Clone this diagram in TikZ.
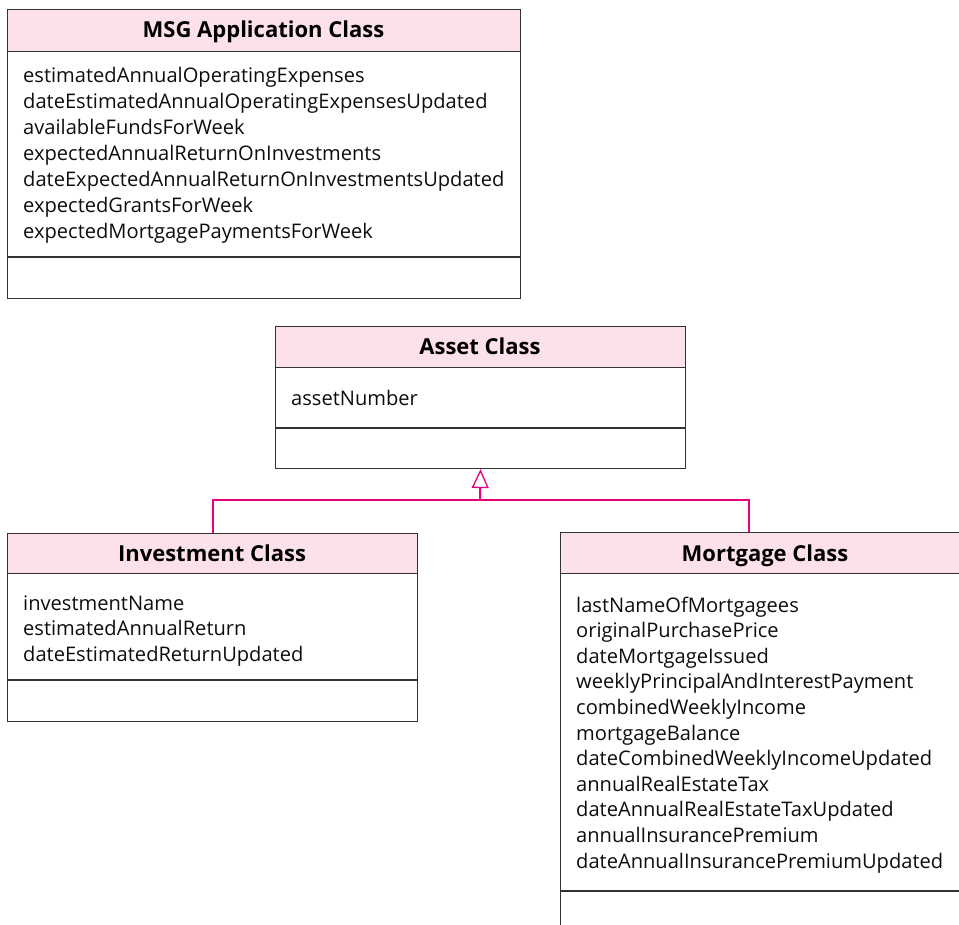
\documentclass[tikz,border=0pt]{standalone}
\usepackage{fontspec}
\setmainfont{Open Sans}
\usetikzlibrary{arrows.meta}
\definecolor{hdrpink}{RGB}{252,224,234}
\definecolor{linkmag}{RGB}{230,0,126}
\definecolor{edgegray}{RGB}{50,50,50}
\tikzset{
  classbox/.style={draw=edgegray, line width=1.1pt, inner sep=0pt, anchor=north west},
  hdrfill/.style={fill=hdrpink, draw=edgegray, line width=1.1pt, inner sep=0pt, anchor=north west},
  sepline/.style={draw=edgegray, line width=1.1pt},
  attr/.style={anchor=base west, inner sep=0pt, font=\fontsize{20.1}{24}\selectfont, text=black!95},
  hdr/.style={anchor=base, inner sep=0pt, font=\fontsize{22}{24}\selectfont\bfseries, text=black},
  genline/.style={draw=linkmag, line width=2pt},
}
\begin{document}
\begin{tikzpicture}[x=1pt,y=-1pt]
\useasboundingbox (0,0) rectangle (959,925);
\clip (0,0) rectangle (959,925);

% MSG Application Class
\node[classbox, minimum width=513pt, minimum height=289pt] (msg) at (7,9) {};
\node[hdrfill, minimum width=513pt, minimum height=41.6pt] (msgh) at (7,9) {};
\draw[sepline] (7,257) -- (520,257);
\node[hdr] (msgt) at (263.5,37.2) {MSG Application Class};
\foreach \t [count=\i from 0] in {estimatedAnnualOperatingExpenses,dateEstimatedAnnualOperatingExpensesUpdated,availableFundsForWeek,expectedAnnualReturnOnInvestments,dateExpectedAnnualReturnOnInvestmentsUpdated,expectedGrantsForWeek,expectedMortgagePaymentsForWeek}
  \node[attr] (msga\i) at (23,82.8+25.9*\i) {\t};

% Asset Class
\node[classbox, minimum width=410pt, minimum height=142pt] (asset) at (275,326) {};
\node[hdrfill, minimum width=410pt, minimum height=41pt] (asseth) at (275,326) {};
\draw[sepline] (275,428) -- (685,428);
\node[hdr] (assett) at (480,355) {Asset Class};
\node[attr] (asseta0) at (291,406) {assetNumber};

% Investment Class
\node[classbox, minimum width=410pt, minimum height=188pt] (inv) at (7,533) {};
\node[hdrfill, minimum width=410pt, minimum height=40pt] (invh) at (7,533) {};
\draw[sepline] (7,680) -- (417,680);
\node[hdr] (invt) at (212,561.5) {Investment Class};
\foreach \t [count=\i from 0] in {investmentName,estimatedAnnualReturn,dateEstimatedReturnUpdated}
  \node[attr] (inva\i) at (23,610+25.6*\i) {\t};

% Mortgage Class
\node[classbox, minimum width=420pt, minimum height=420pt] (mort) at (560,532) {};
\node[hdrfill, minimum width=420pt, minimum height=41pt] (morth) at (560,532) {};
\draw[sepline] (560,891) -- (980,891);
\node[hdr] (mortt) at (765,561.5) {Mortgage Class};
\foreach \t [count=\i from 0] in {lastNameOfMortgagees,originalPurchasePrice,dateMortgageIssued,weeklyPrincipalAndInterestPayment,combinedWeeklyIncome,mortgageBalance,dateCombinedWeeklyIncomeUpdated,annualRealEstateTax,dateAnnualRealEstateTaxUpdated,annualInsurancePremium,dateAnnualInsurancePremiumUpdated}
  \node[attr] (morta\i) at (576,612+25.6*\i) {\t};

% Generalization
\coordinate (junc) at (480,500);
\coordinate (morttop) at (749,532);
\draw[genline] (inv.north) |- (junc) -| (morttop);
\draw[genline, -{Triangle[open, length=19pt, width=17pt, line width=1.3pt, fill=white]}] (junc) -- (asset.south);
\end{tikzpicture}
\end{document}
